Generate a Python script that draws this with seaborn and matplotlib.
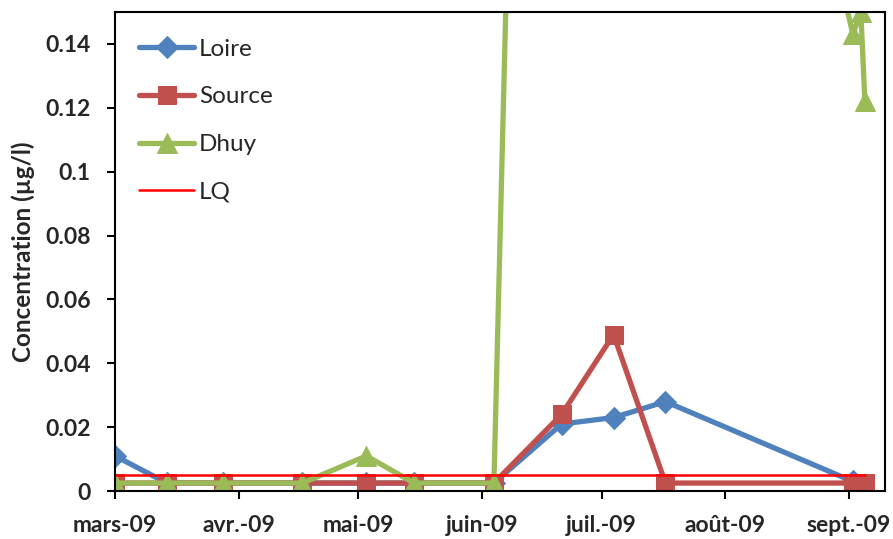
import numpy as np
import pandas as pd
import matplotlib
matplotlib.use('Agg')
import matplotlib.pyplot as plt
import seaborn as sns

# sampling dates (2009)
dates = ['2009-03-01', '2009-03-14', '2009-03-28', '2009-04-17', '2009-05-03',
         '2009-05-15', '2009-06-04', '2009-06-21', '2009-07-04', '2009-07-17',
         '2009-09-02', '2009-09-04', '2009-09-05']

loire = [0.011, 0.0025, 0.0025, 0.0025, 0.0025, 0.0025, 0.0025,
         0.021, 0.023, 0.028, 0.003, np.nan, np.nan]
source = [0.0025, 0.0025, 0.0025, 0.0025, 0.0025, 0.0025, 0.0025,
          0.024, 0.049, 0.0025, 0.0025, np.nan, 0.0025]
# Dhuy goes far above the axis between June and September
dhuy = [0.0025, 0.0025, 0.0025, 0.0025, 0.011, 0.0025, 0.0025,
        0.85, 0.6, 0.4, 0.143, 0.150, 0.122]
lq_dates = ['2009-03-01', '2009-09-05']
lq = [0.005, 0.005]

tick_dates = ['2009-03-01', '2009-04-01', '2009-05-01', '2009-06-01',
              '2009-07-01', '2009-08-01', '2009-09-01']
tick_labels = ['mars-09', 'avr.-09', 'mai-09', 'juin-09', 'juil.-09', 'août-09', 'sept.-09']
yticks = [0, 0.02, 0.04, 0.06, 0.08, 0.1, 0.12, 0.14]
ytick_labels = ['0', '0.02', '0.04', '0.06', '0.08', '0.1', '0.12', '0.14']

df = pd.DataFrame({'date': pd.to_datetime(dates), 'Loire': loire,
                   'Source': source, 'Dhuy': dhuy})
df_lq = pd.DataFrame({'date': pd.to_datetime(lq_dates), 'LQ': lq})

sns.set_style('white')
plt.rcParams['font.family'] = ['Lato', 'DejaVu Sans']

fig = plt.figure(figsize=(8.93, 5.39), dpi=100)
ax = fig.add_axes([0.1288, 0.089, 0.862, 0.8887])

series = [('Loire', '#4F81BD', 'D', 11.5),
          ('Source', '#C0504D', 's', 13),
          ('Dhuy', '#9BBB59', '^', 14)]
for name, col, mk, ms in series:
    d = df.dropna(subset=[name])
    sns.lineplot(data=d, x='date', y=name, ax=ax, color=col, linewidth=3.8,
                 marker=mk, markersize=ms, markeredgecolor=col, label=name,
                 estimator=None, sort=False)
sns.lineplot(data=df_lq, x='date', y='LQ', ax=ax, color='#FF0000', linewidth=1.8,
             label='LQ', estimator=None)

ax.set_ylim(0, 0.15)
ax.set_xlim(pd.Timestamp('2009-03-01'), pd.Timestamp('2009-09-10'))
ax.set_yticks(yticks)
ax.set_yticklabels(ytick_labels, fontweight='bold', fontsize=16.5)
ax.set_xticks(pd.to_datetime(tick_dates))
ax.set_xticklabels(tick_labels, fontweight='bold', fontsize=16.5)
ax.tick_params(axis='both', direction='out', length=6, width=1.5, color='black',
               bottom=True, left=True)
ax.tick_params(axis='x', pad=11)
ax.tick_params(axis='y', pad=11.5)
ax.set_xlabel('')
ax.set_ylabel('Concentration (µg/l)', fontweight='bold', fontsize=17.5)
ax.yaxis.set_label_coords(-0.104, 0.5)
for sp in ax.spines.values():
    sp.set_color('black')
    sp.set_linewidth(1.5)

leg = ax.legend(loc='upper left', frameon=False, fontsize=17.5, labelspacing=1.1,
                handlelength=2.26, handletextpad=0.2, bbox_to_anchor=(0.003, 0.99))

fig.savefig('out.png', dpi=100)
